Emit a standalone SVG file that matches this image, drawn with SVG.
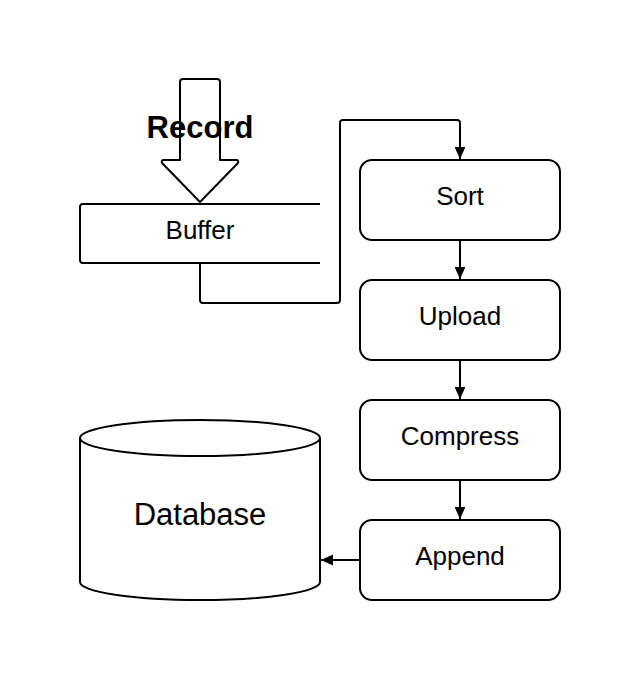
<svg xmlns="http://www.w3.org/2000/svg" width="640" height="683" viewBox="0 0 640 683">
<style>
.s{fill:#fff;stroke:#000;stroke-width:2;stroke-linejoin:round}
.c{fill:none;stroke:#000;stroke-width:2;stroke-linejoin:round}
.t{font-family:"Liberation Sans",Arial,sans-serif;font-size:26px;fill:#000;text-anchor:middle}
</style>
<defs>
<marker id="ah" viewBox="0 0 10 10" refX="10" refY="5" markerWidth="12" markerHeight="12" markerUnits="userSpaceOnUse" orient="auto">
<path d="M0,0.5 L10,5 L0,9.5 Z" fill="#000"/>
</marker>
</defs>
<rect width="640" height="683" fill="#fff"/>
<g id="connectors">
<path class="c" d="M200,264 L200,300 Q200,303 203,303 L337,303 Q340,303 340,300 L340,123 Q340,120 343,120 L457,120 Q460,120 460,123 L460,159" marker-end="url(#ah)"/>
<path class="c" d="M460,240 L460,279" marker-end="url(#ah)"/>
<path class="c" d="M460,360 L460,399" marker-end="url(#ah)"/>
<path class="c" d="M460,480 L460,519" marker-end="url(#ah)"/>
<path class="c" d="M360,560 L321,560" marker-end="url(#ah)"/>
</g>
<g id="record">
<path class="s" d="M180,82 Q180,79 183,79 L217,79 Q220,79 220,82 L220,160 L237,160 Q239,161 238,163 L200,202 L162,163 Q161,161 163,160 L180,160 Z"/>
<text class="t" x="200" y="138" style="font-size:31px;font-weight:bold">Record</text>
</g>
<g id="buffer">
<path class="s" d="M320,204 L83,204 Q80,204 80,207 L80,260 Q80,263 83,263 L320,263"/>
<text class="t" x="200" y="239">Buffer</text>
</g>
<g id="sort">
<rect class="s" x="360" y="160" width="200" height="80" rx="12"/>
<text class="t" x="460" y="205">Sort</text>
</g>
<g id="upload">
<rect class="s" x="360" y="280" width="200" height="80" rx="12"/>
<text class="t" x="460" y="325">Upload</text>
</g>
<g id="compress">
<rect class="s" x="360" y="400" width="200" height="80" rx="12"/>
<text class="t" x="460" y="445">Compress</text>
</g>
<g id="append">
<rect class="s" x="360" y="520" width="200" height="80" rx="12"/>
<text class="t" x="460" y="565">Append</text>
</g>
<g id="database">
<path class="s" d="M80,438 L80,582 A120,18 0 0 0 320,582 L320,438 A120,18 0 0 0 80,438 Z"/>
<path class="c" d="M80,438 A120,18 0 0 0 320,438"/>
<text class="t" x="200" y="525" style="font-size:31px">Database</text>
</g>
</svg>
